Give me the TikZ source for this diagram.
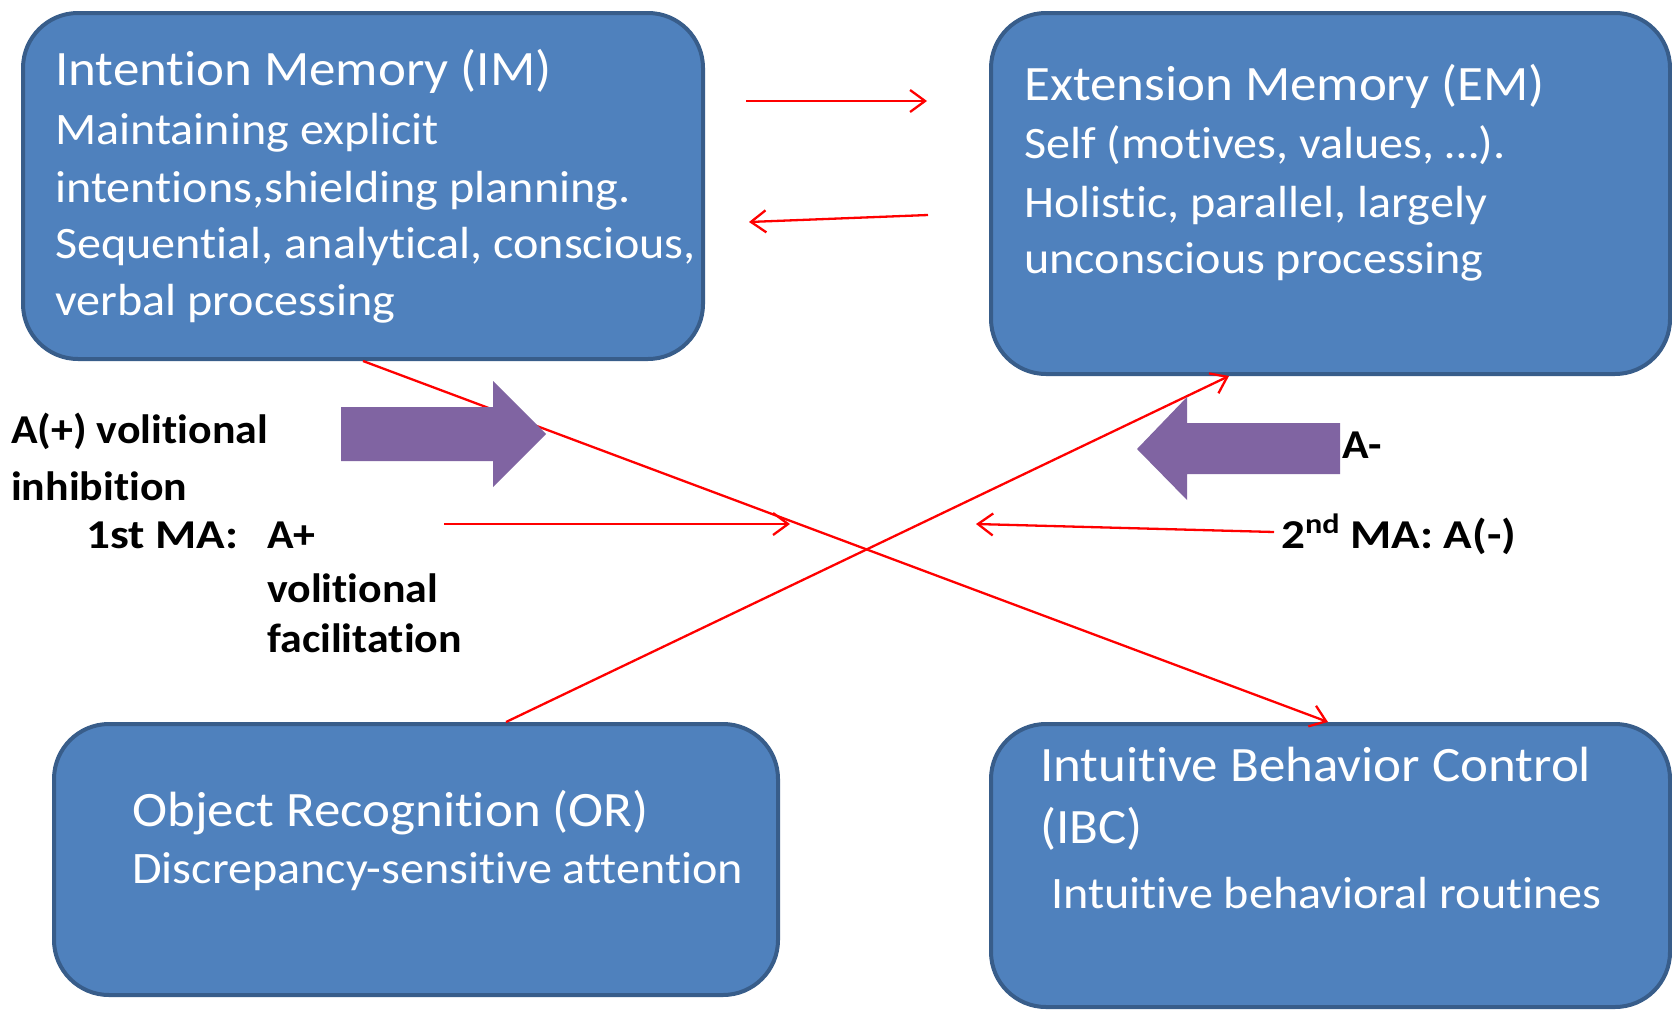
\documentclass[tikz,border=0pt]{standalone}
\usepackage{fontspec}
\setmainfont{Carlito}[FakeStretch=1.07, Ligatures=NoCommon]
\newfontfamily\widelbl{Carlito}[FakeStretch=1.15, Ligatures=NoCommon]
\usetikzlibrary{arrows.meta,calc}
\definecolor{boxfill}{HTML}{4F81BD}
\definecolor{boxline}{HTML}{385D8A}
\definecolor{purp}{HTML}{8064A2}
\begin{document}
\begin{tikzpicture}[x=1pt,y=-1pt,
  box/.style={draw=boxline, fill=boxfill, line width=4pt, rounded corners=55pt, rectangle, anchor=north west, inner sep=0pt},
  ttl/.style={anchor=base west, inner sep=0pt, text=white, font=\fontsize{49.5}{60}\selectfont},
  bdy/.style={anchor=base west, inner sep=0pt, text=white, font=\fontsize{45}{57}\selectfont},
  lbl/.style={anchor=base west, inner sep=0pt, font=\bfseries\fontsize{41}{50}\selectfont},
  widelabel/.style={anchor=base west, inner sep=0pt, font=\widelbl\bfseries\fontsize{41}{50}\selectfont},
  rarrow/.style={draw=red, line width=2.3pt, -{Straight Barb[length=15pt,width=22pt,line width=2.3pt]}},
  purparrow/.style={fill=purp, draw=none},
]
\useasboundingbox (0,0) rectangle (1672,1009);
\fill[white] (0,0) rectangle (1672,1009);

% boxes
\node[box, minimum width=680pt, minimum height=346pt] (im) at (21,11) {};
\node[box, minimum width=679pt, minimum height=361pt] (em) at (989,11) {};
\node[box, minimum width=724pt, minimum height=271pt] (or) at (52,722) {};
\node[box, minimum width=679pt, minimum height=283pt] (ibc) at (989,722) {};

% IM text
\node[ttl] (imt) at (55,85) {Intention Memory (IM)};
\node[bdy] (im1) at (55,144) {Maintaining explicit};
\node[bdy] (im2) at (55,202) {intentions,shielding planning.};
\node[bdy] (im3) at (55,258) {Sequential, analytical, conscious,};
\node[bdy] (im4) at (55,315) {verbal processing};

% EM text
\node[ttl] (emt) at (1024,100) {Extension Memory (EM)};
\node[bdy] (em1) at (1024,158) {Self (motives, values, …).};
\node[bdy] (em2) at (1024,217) {Holistic, parallel, largely};
\node[bdy] (em3) at (1024,273) {unconscious processing};

% OR text
\node[ttl] (ort) at (132,826) {Object Recognition (OR)};
\node[bdy] (or1) at (132,883) {Discrepancy-sensitive attention};

% IBC text
\node[ttl] (ibct) at (1040,781) {Intuitive Behavior Control};
\node[ttl] (ibct2) at (1040,843) {(IBC)};
\node[bdy] (ibc1) at (1051,908) {Intuitive behavioral routines};

% red connectors
\coordinate (a1) at (746,101);
\coordinate (a2) at (927,101);
\coordinate (b1) at (928,215);
\coordinate (b2) at (749,222);
\draw[rarrow] (a1) -- (a2);
\draw[rarrow] (b1) -- (b2);
\draw[rarrow] ($(im.south west)+(342,0)$) -- ($(ibc.north west)+(339,0)$);
\draw[rarrow] ($(or.north west)+(454,0)$) -- ($(em.south west)+(240,0)$);

% purple block arrows
\fill[purparrow] (341,407) -- (493,407) -- (493,381) -- (546,434) -- (493,487) -- (493,461) -- (341,461) -- cycle;
\fill[purparrow] (1340,423) -- (1187,423) -- (1187,397) -- (1137,449) -- (1187,500) -- (1187,474) -- (1340,474) -- cycle;

% labels
\node[lbl] (l1) at (11,443) {A(+) volitional};
\node[lbl] (l2) at (11,500) {inhibition};
\node[widelabel] (l3) at (86,548) {1st MA:};
\node[lbl] (l4) at (267,548) {A+};
\node[lbl] (l5) at (267,602) {volitional};
\node[lbl] (l6) at (267,652) {facilitation};
\node[lbl] (l7) at (1342,458) {A-};
\node[widelabel] (l8) at (1281,548) {2\raisebox{15pt}{\fontsize{28}{30}\selectfont nd} MA: A(-)};

\coordinate (c1) at (444,524);
\coordinate (c2) at (790,524);
\coordinate (d1) at (1274,532);
\coordinate (d2) at (976,524);
\draw[rarrow] (c1) -- (c2);
\draw[rarrow] (d1) -- (d2);
\end{tikzpicture}
\end{document}
